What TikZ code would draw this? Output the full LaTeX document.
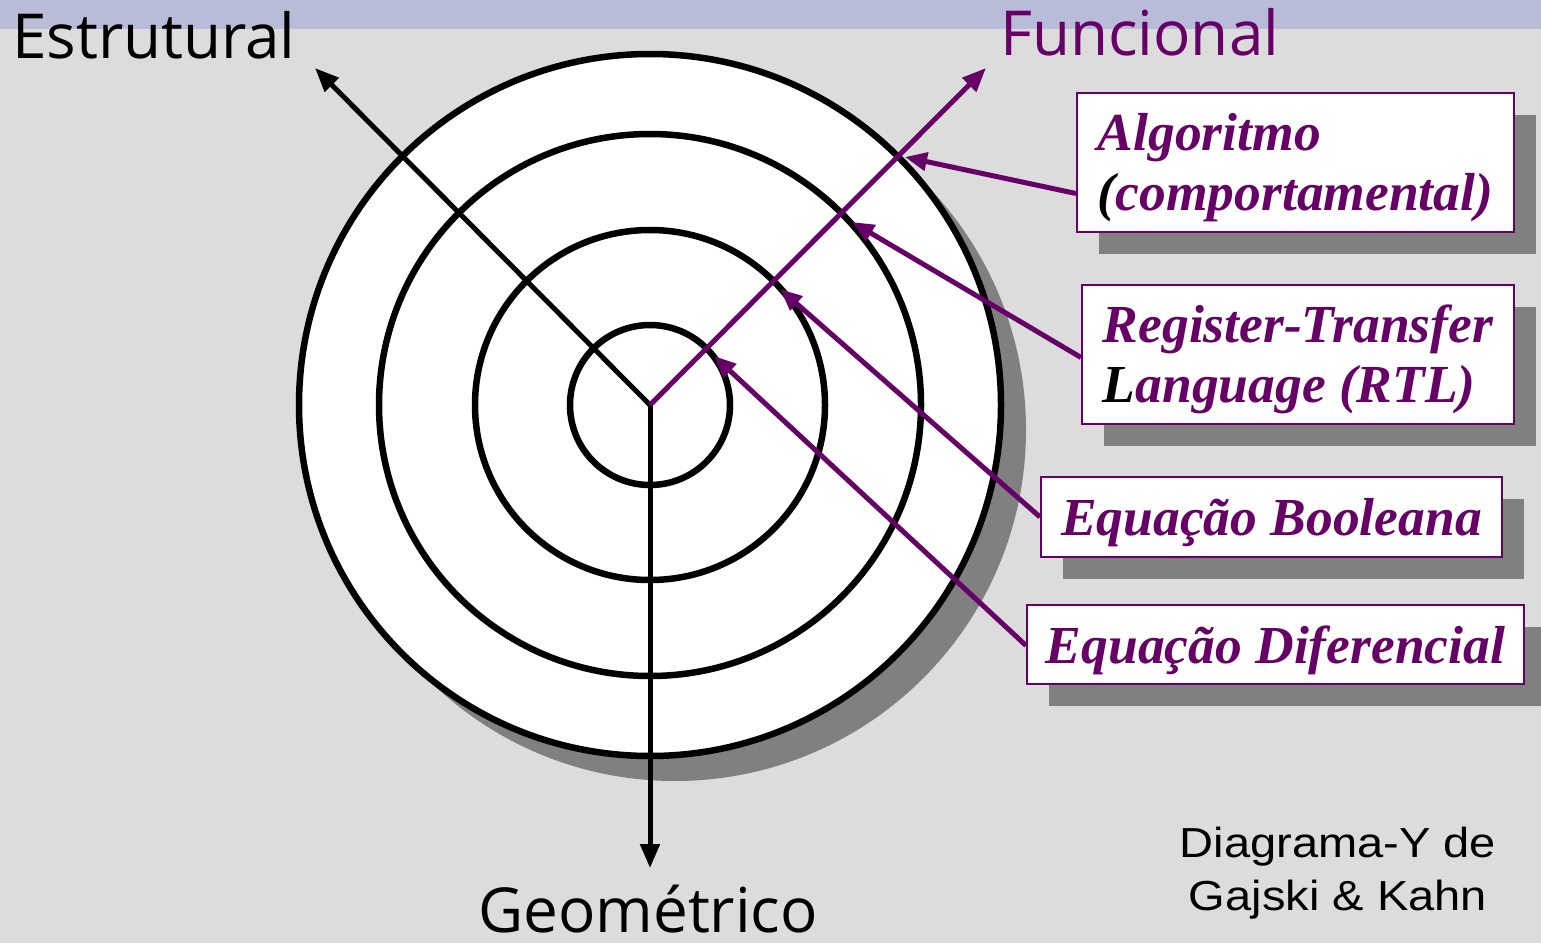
\documentclass[tikz,border=0pt]{standalone}
\usepackage{fontspec}
\setmainfont{Liberation Serif}
\newfontfamily\labelfont{Open Sans}
\newfontfamily\notefont[FakeStretch=1.12]{Liberation Sans}
\usetikzlibrary{arrows.meta,shadows}
\definecolor{fpurple}{RGB}{102,0,102}
\definecolor{bgray}{RGB}{220,220,220}
\definecolor{bandblue}{RGB}{184,188,216}
\definecolor{shadowgray}{RGB}{128,128,128}
\begin{document}
\begin{tikzpicture}[x=1pt,y=-1pt,
  ring/.style={draw=black,line width=6.5pt},
  axisline/.style={line width=5pt,-{Triangle[length=24pt,width=19pt]}},
  conn/.style={draw=fpurple,line width=5pt,-{Triangle[length=22pt,width=18pt]}},
  labelbox/.style={draw=fpurple,line width=2pt,fill=white,anchor=north west,inner sep=0pt,
    align=left,font=\fontsize{53.5}{60}\selectfont\bfseries\itshape,text=fpurple,
    general shadow={shadow xshift=22pt,shadow yshift=-22pt,fill=shadowgray}},
  axislabel/.style={font=\labelfont\fontsize{62}{70}\selectfont,anchor=base west,inner sep=0pt}
]
\useasboundingbox (0,0) rectangle (1541,943);
\fill[bgray] (0,0) rectangle (1541,943);
\fill[bandblue] (0,0) rectangle (1541,29);

\coordinate (c) at (650,405);
% outer shadow and rings
\fill[shadowgray] (675,430) circle[radius=351];
\filldraw[ring,fill=white] (c) circle[radius=351];
\draw[ring] (c) circle[radius=271];
\draw[ring] (c) circle[radius=175];
\draw[ring] (c) circle[radius=80];

% axes
\coordinate (estr) at (315,68);
\coordinate (func) at (986,68);
\coordinate (geom) at (650,868);
\draw[axisline,black] (c) -- (estr);
\draw[axisline,black] (c) -- (geom);
\draw[axisline,fpurple] (c) -- (func);

% axis labels
\node[axislabel,text=black] (lestr) at (12,58) {Estrutural};
\node[axislabel,text=fpurple] (lfunc) at (1000,55) {Funcional};
\node[axislabel,text=black] (lgeom) at (478,932) {Geométrico};

% boxes
\node[labelbox,minimum width=437pt,minimum height=139pt] (b1) at (1076,92)
  {\rule{0pt}{48pt}Algoritmo\\{\color{black}(}comportamental)};
\node[labelbox,minimum width=432pt,minimum height=139pt] (b2) at (1081,284)
  {\rule{0pt}{48pt}Register-Transfer\\{\color{black}L}anguage (RTL)};
\node[labelbox,minimum width=461pt,minimum height=80pt,text depth=0pt] (b3) at (1040,476)
  {Equação Booleana};
\node[labelbox,minimum width=497pt,minimum height=79pt,text depth=0pt] (b4) at (1026,604)
  {Equação Diferencial};

% connector tips on the functional axis
\coordinate (t1) at (905,157);
\coordinate (t2) at (852,222);
\coordinate (t3) at (780,289);
\coordinate (t4) at (714,356);
\draw[conn] ([yshift=-31pt]b1.west) -- (t1);
\draw[conn] ([yshift=-3pt]b2.west) -- (t2);
\draw[conn] (b3.west) -- (t3);
\draw[conn] ([yshift=-1pt]b4.west) -- (t4);

% note
\node[font=\notefont\fontsize{42}{53}\selectfont,align=center,anchor=north,inner sep=0pt] (note) at (1338,827)
  {Diagrama-Y de\\Gajski \& Kahn};
\end{tikzpicture}
\end{document}
